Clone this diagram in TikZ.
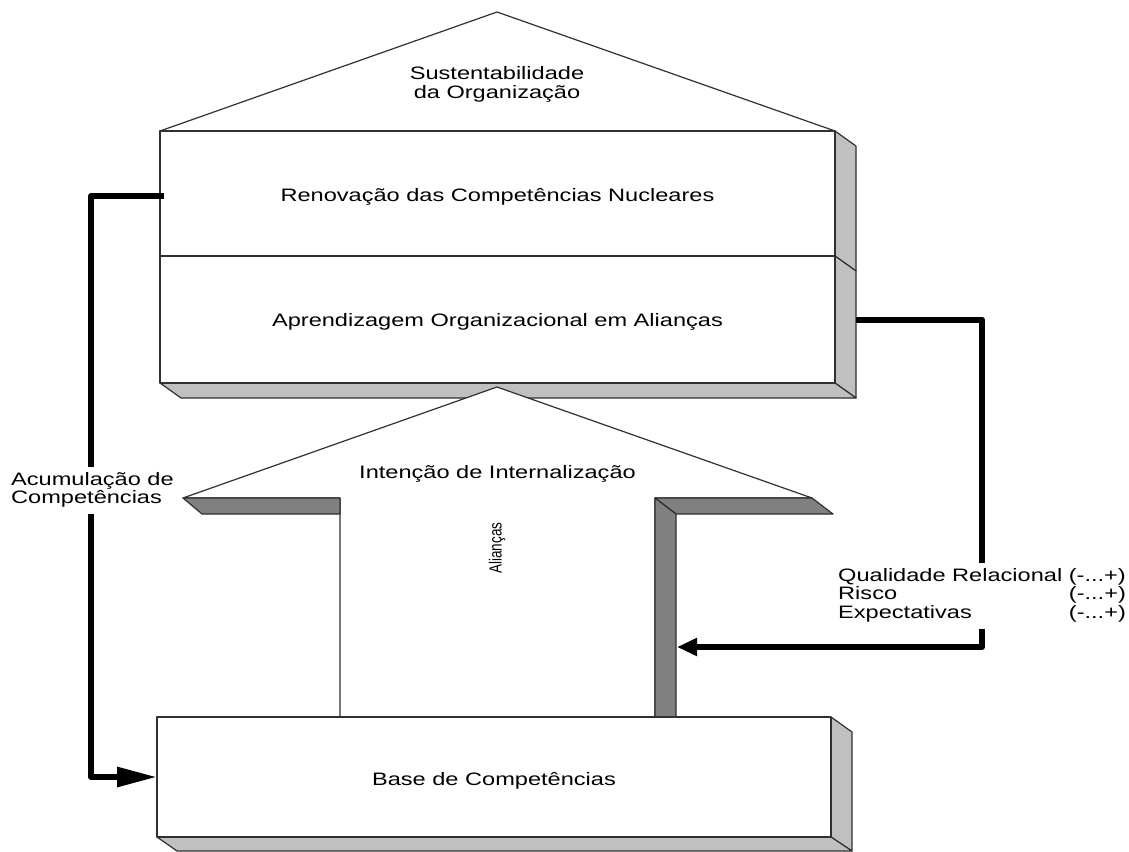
\documentclass[tikz,border=0pt]{standalone}
\usepackage{fontspec}
\setmainfont{Liberation Sans}
\usetikzlibrary{arrows.meta}
\definecolor{edge}{HTML}{303030}
\definecolor{face}{HTML}{C0C0C0}
\definecolor{shade}{HTML}{808080}
\newcommand{\sx}[1]{\scalebox{1.31}[1]{#1}}
\begin{document}
\begin{tikzpicture}[x=1pt,y=-1pt,
  outline/.style={draw=edge, line width=1.2pt, line join=round},
  front/.style={outline, fill=white},
  side/.style={outline, fill=face},
  dark/.style={outline, fill=shade},
  boxnode/.style={front, anchor=north west, inner sep=0pt, outer sep=0pt},
  lbl/.style={font=\fontsize{18}{18.5}\selectfont, inner sep=0pt, anchor=base},
  conn/.style={line width=6pt, line join=round, draw=black},
  bigtip/.style={-{Triangle[length=40pt,width=19pt]}},
  smalltip/.style={-{Triangle[length=20pt,width=17pt]}},
  note/.style={font=\fontsize{18}{18.5}\selectfont, fill=white, inner xsep=2pt, inner ysep=5pt, anchor=base west}
]
\useasboundingbox (0,0) rectangle (1129,851);

% roof
\draw[front] (160,131) -- (497,12) -- (835,131) -- cycle;

% upper box: renovation
\draw[side] (835,131) -- (856,146) -- (856,271) -- (835,256) -- cycle;
\node[boxnode, minimum width=675pt, minimum height=125pt] (b1) at (160,131) {};

% middle box: learning
\draw[side] (835,256) -- (856,271) -- (856,398) -- (835,383) -- cycle;
\draw[side] (160,383) -- (835,383) -- (856,398) -- (181,398) -- cycle;
\node[boxnode, minimum width=675pt, minimum height=127pt] (b2) at (160,256) {};

% big arrow (intention)
\draw[front] (497,387) -- (812,498) -- (655,498) -- (655,717) -- (340,717) -- (340,498) -- (183,498) -- cycle;
\draw[dark] (183,498) -- (340,498) -- (340,514) -- (202,514) -- cycle;
\draw[dark] (655,498) -- (812,498) -- (833,514) -- (676,514) -- cycle;
\draw[dark] (655,498) -- (676,514) -- (676,717) -- (655,717) -- cycle;
\coordinate (shaftR) at (677,647);

% base box
\draw[side] (831,717) -- (852,732) -- (852,851) -- (831,837) -- cycle;
\draw[side] (157,837) -- (831,837) -- (852,851) -- (177,851) -- cycle;
\node[boxnode, minimum width=674pt, minimum height=120pt] (base) at (157,717) {};

% connectors
\coordinate (lstart) at (164,196);
\draw[conn, bigtip] (lstart) -- ++(-73,0) |- (base.west);
\coordinate (rstart) at ([xshift=21pt]b2.east);
\draw[conn, smalltip] (rstart) -- ++(126,0) |- (shaftR);

% labels
\node[lbl, anchor=center] (tsust) at (497,85) {\sx{\begin{tabular}{@{}c@{}}Sustentabilidade\\da Organização\end{tabular}}};
\node[lbl] (tren) at (497.5,201) {\sx{Renovação das Competências Nucleares}};
\node[lbl] (tapr) at (497.5,326) {\sx{Aprendizagem Organizacional em Alianças}};
\node[lbl] (tint) at (497.5,478) {\sx{Intenção de Internalização}};
\node[lbl] (tbase) at (494,785) {\sx{Base de Competências}};
\node[font=\fontsize{13.5}{14}\selectfont, inner sep=0pt, rotate=90] (talian) at (497,548) {\scalebox{1}[1.3]{Alianças}};
\node[note] (tacum) at (9,485) {\sx{\begin{tabular}[t]{@{}l@{}}Acumulação de\\Competências\end{tabular}}};
\node[note] (tqual) at (836,581) {\sx{\begin{tabular}[t]{@{}l@{ }r@{}}Qualidade Relacional&(-...+)\\Risco&(-...+)\\Expectativas&(-...+)\end{tabular}}};
\end{tikzpicture}
\end{document}
